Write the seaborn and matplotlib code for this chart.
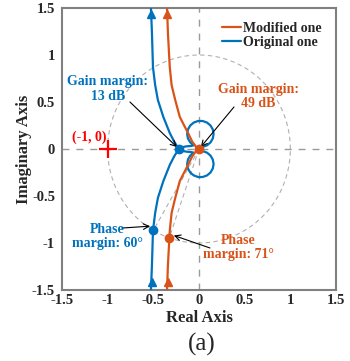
import numpy as np
import pandas as pd
import matplotlib
matplotlib.use("Agg")
import matplotlib.pyplot as plt
import seaborn as sns
from matplotlib.lines import Line2D

# ---- data (upper half, from top edge toward origin) ----
# Original one (blue): top asymptote -> GM crossing -> lens -> lower loop -> origin
blue_x = [-0.526, -0.515, -0.504, -0.48, -0.45, -0.39, -0.32, -0.27, -0.24, -0.22,
          -0.19, -0.14, -0.09, -0.058, -0.096, -0.121, -0.130, -0.121, -0.096,
          -0.058, -0.010, 0.040, 0.088, 0.126, 0.151, 0.160, 0.151, 0.126, 0.088,
          0.040, 0.012, 0.0]
blue_y = [1.50, 1.23, 0.87, 0.68, 0.52, 0.34, 0.17, 0.075, 0.03, 0.0,
          -0.018, -0.028, -0.032, -0.039, -0.070, -0.112, -0.160, -0.208, -0.250,
          -0.281, -0.298, -0.298, -0.281, -0.250, -0.208, -0.160, -0.112, -0.070,
          -0.039, -0.022, -0.015, -0.005]
# Modified one (orange): top asymptote -> origin
orange_x = [-0.35, -0.34, -0.32, -0.30, -0.26, -0.21, -0.12, -0.075, -0.03, 0.0]
orange_y = [1.50, 1.23, 0.87, 0.68, 0.52, 0.34, 0.17, 0.08, 0.02, 0.0]

series_names = ["Modified one", "Original one"]
colors = {"Modified one": "#D95319", "Original one": "#0072BD"}

# margin points
gm_blue = (-0.224, 0.0)      # 13 dB
gm_orange = (0.0, 0.0)       # 49 dB
pm_blue = (-0.50, -0.866)    # 60 deg
pm_orange = (-0.326, -0.946) # 71 deg

ticks = [-1.5, -1, -0.5, 0, 0.5, 1, 1.5]
tick_labels = ["-1.5", "-1", "-0.5", "0", "0.5", "1", "1.5"]


def full_path(xs, ys):
    # Nyquist plot is symmetric about the real axis: upper branch + mirrored lower branch
    xs = list(xs); ys = list(ys)
    return xs + xs[::-1], ys + [-v for v in ys[::-1]]


bx, by = full_path(blue_x, blue_y)
ox, oy = full_path(orange_x, orange_y)
df = pd.concat([
    pd.DataFrame({"x": bx, "y": by, "curve": "Original one", "i": range(len(bx))}),
    pd.DataFrame({"x": ox, "y": oy, "curve": "Modified one", "i": range(len(ox))}),
])

sns.set_style("white")
plt.rcParams["font.family"] = ["Liberation Serif", "DejaVu Serif"]
plt.rcParams["axes.unicode_minus"] = False

fig = plt.figure(figsize=(3.5, 3.61), dpi=100)
ax = fig.add_axes([62 / 350, 1 - 290 / 361, 274 / 350, 282 / 361])

gray = "#9a9a9a"
# reference lines
ax.axhline(0, color=gray, lw=1.0, ls=(0, (5, 5)), zorder=1)
ax.axvline(0, color=gray, lw=1.0, ls=(0, (5, 5)), zorder=1)
th = np.linspace(0, 2 * np.pi, 400)
ax.plot(np.cos(th), np.sin(th), color="#b0b0b0", lw=0.8, ls=(0, (4, 3)), zorder=1)
for p in (pm_blue, pm_orange):
    ax.plot([0, p[0]], [0, p[1]], color="#b0b0b0", lw=0.8, ls=(0, (4, 3)), zorder=1)

# curves
for name in ["Original one", "Modified one"]:
    sub = df[df.curve == name]
    sns.lineplot(data=sub, x="x", y="y", sort=False, estimator=None,
                 color=colors[name], lw=1.6, ax=ax, zorder=3)

# direction arrows
ax.plot([blue_x[0]], [1.44], marker="^", ms=6, color=colors["Original one"], zorder=4)
ax.plot([blue_x[0] + 0.01], [-1.42], marker="^", ms=6, color=colors["Original one"], zorder=4)
ax.plot([orange_x[0]], [1.44], marker="^", ms=6, color=colors["Modified one"], zorder=4)
ax.plot([orange_x[0] + 0.01], [-1.42], marker="^", ms=6, color=colors["Modified one"], zorder=4)

# margin points
for p, c in [(gm_blue, "Original one"), (pm_blue, "Original one"),
             (gm_orange, "Modified one"), (pm_orange, "Modified one")]:
    ax.plot([p[0]], [p[1]], "o", ms=6, color=colors[c], zorder=5)

# critical point
ax.plot([-1], [0], marker="+", ms=13, mew=1.6, color="red", zorder=5)
ax.text(-1.2, 0.12, "(-1, 0)", color="red", fontsize=10, fontweight="bold",
        ha="center", va="center")

aprops = dict(arrowstyle="->", color="black", lw=0.8, shrinkA=0, shrinkB=1)
ax.text(-1.0, 0.64, "Gain margin:\n13 dB", color=colors["Original one"], fontsize=10,
        fontweight="bold", ha="center", va="center", linespacing=1.15)
ax.annotate("", xy=(-0.23, 0.01), xytext=(-0.756, 0.50), arrowprops=aprops)

ax.text(0.646, 0.56, "Gain margin:\n49 dB", color=colors["Modified one"], fontsize=10,
        fontweight="bold", ha="center", va="center", linespacing=1.15)
ax.annotate("", xy=(0.01, 0.01), xytext=(0.383, 0.447), arrowprops=aprops)

ax.text(-1.0, -0.93, "Phase\nmargin: 60°", color=colors["Original one"], fontsize=10,
        fontweight="bold", ha="center", va="center", linespacing=1.15)
ax.annotate("", xy=(-0.52, -0.82), xytext=(-0.832, -0.84), arrowprops=aprops)

ax.text(0.43, -1.05, "Phase\nmargin: 71°", color=colors["Modified one"], fontsize=10,
        fontweight="bold", ha="center", va="center", linespacing=1.15)
ax.annotate("", xy=(-0.29, -0.915), xytext=(0.12, -1.053), arrowprops=aprops)

# axes cosmetics
ax.set_xlim(-1.5, 1.5)
ax.set_ylim(-1.5, 1.5)
ax.set_xticks(ticks)
ax.set_xticklabels(tick_labels)
ax.set_yticks(ticks)
ax.set_yticklabels(tick_labels)
ax.tick_params(axis="x", length=0, pad=3, labelsize=10.5)
ax.tick_params(axis="y", length=0, pad=5, labelsize=10.5)
for lab in ax.get_xticklabels() + ax.get_yticklabels():
    lab.set_fontweight("bold")
for s in ax.spines.values():
    s.set_color("#808080")
    s.set_linewidth(1.5)
ax.set_xlabel("Real Axis", fontsize=12, fontweight="bold")
ax.set_ylabel("Imaginary Axis", fontsize=12, fontweight="bold")
ax.xaxis.set_label_coords(0.5, -0.072)
ax.yaxis.set_label_coords(-0.108, 0.5)

# legend
handles = [Line2D([], [], color=colors[n], lw=1.6) for n in series_names]
leg = ax.legend(handles, series_names, loc="upper right", frameon=False,
                prop={"size": 10, "weight": "bold"}, handlelength=1.4,
                handletextpad=0.15, borderaxespad=0.7, borderpad=0.3,
                labelspacing=0.05)

fig.text(0.577, 0.045, "(a)", fontsize=18, ha="center", va="center")

fig.savefig("out.png", dpi=100)
